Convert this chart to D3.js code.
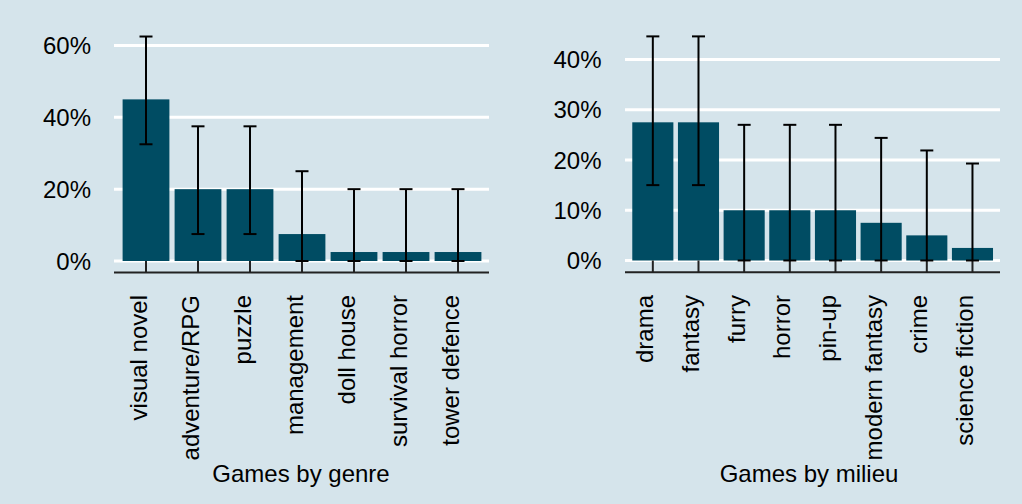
<!DOCTYPE html>
<html>
<head>
<meta charset="utf-8">
<script src="https://cdn.jsdelivr.net/npm/d3@7"></script>
<style>
  html, body { margin: 0; padding: 0; background: #d5e4eb; }
  svg { display: block; }
  text { font-family: "Liberation Sans", Arial, sans-serif; fill: #000; }
</style>
</head>
<body>
<svg id="chart" width="1022" height="504"></svg>
<script>
// Games by genre (share of games, %) with confidence bounds
const genreCats  = ['visual novel', 'adventure/RPG', 'puzzle', 'management', 'doll house', 'survival horror', 'tower defence'];
const genreValue = [45, 20, 20, 7.5, 2.5, 2.5, 2.5];
const genreLow   = [32.5, 7.5, 7.5, 0, 0, 0, 0];
const genreHigh  = [62.5, 37.5, 37.5, 25, 20, 20, 20];
const genreTicks = [0, 20, 40, 60];

// Games by milieu
const milieuCats  = ['drama', 'fantasy', 'furry', 'horror', 'pin-up', 'modern fantasy', 'crime', 'science fiction'];
const milieuValue = [27.5, 27.5, 10, 10, 10, 7.5, 5, 2.5];
const milieuLow   = [15, 15, 0, 0, 0, 0, 0, 0];
const milieuHigh  = [44.6, 44.6, 27, 27, 27, 24.4, 21.9, 19.3];
const milieuTicks = [0, 10, 20, 30, 40];

const svg = d3.select('#chart');
const barColor = '#004c63';

// Draw one bar panel
function panel(opts) {
  let g = svg.append('g');
  let x = d3.scaleBand()
    .domain(opts.cats)
    .range(opts.xRange)
    .paddingInner(0.1)
    .paddingOuter(0.05);
  let y = d3.scaleLinear()
    .domain(opts.yDomain)
    .range(opts.yRange);

  // Gridlines
  g.selectAll('line.grid')
    .data(opts.ticks)
    .join('line')
    .attr('x1', opts.gridX[0])
    .attr('x2', opts.gridX[1])
    .attr('y1', d => y(d))
    .attr('y2', d => y(d))
    .attr('stroke', '#fff')
    .attr('stroke-width', 3);

  // Y labels
  g.selectAll('text.ylab')
    .data(opts.ticks)
    .join('text')
    .attr('x', opts.labelX)
    .attr('y', d => y(d))
    .attr('dy', '0.36em')
    .attr('text-anchor', 'end')
    .style('font-size', '24px')
    .text(d => d + '%');

  let rows = opts.cats.map((c, i) => ({c: c, v: opts.values[i], lo: opts.low[i], hi: opts.high[i]}));

  // Bars
  g.selectAll('rect.bar')
    .data(rows)
    .join('rect')
    .attr('x', d => x(d.c))
    .attr('width', x.bandwidth())
    .attr('y', d => y(d.v))
    .attr('height', d => y(0) - y(d.v))
    .attr('fill', barColor);

  // X axis line and ticks
  let axisY = opts.axisY;
  g.append('line')
    .attr('x1', opts.gridX[0])
    .attr('x2', opts.gridX[1])
    .attr('y1', axisY)
    .attr('y2', axisY)
    .attr('stroke', '#222')
    .attr('stroke-width', 2);
  g.selectAll('line.tick')
    .data(rows)
    .join('line')
    .attr('x1', d => x(d.c) + x.bandwidth() / 2)
    .attr('x2', d => x(d.c) + x.bandwidth() / 2)
    .attr('y1', y(0))
    .attr('y2', axisY)
    .attr('stroke', '#222')
    .attr('stroke-width', 2);

  // Error bars
  let cap = 6.5;
  let eb = g.selectAll('g.err')
    .data(rows)
    .join('g')
    .attr('transform', d => 'translate(' + (x(d.c) + x.bandwidth() / 2) + ',0)');
  eb.append('line')
    .attr('y1', d => y(d.lo))
    .attr('y2', d => y(d.hi))
    .attr('stroke', '#000')
    .attr('stroke-width', 2);
  for (let key of ['lo', 'hi']) {
    eb.append('line')
      .attr('x1', -cap)
      .attr('x2', cap)
      .attr('y1', d => y(d[key]))
      .attr('y2', d => y(d[key]))
      .attr('stroke', '#000')
      .attr('stroke-width', 2);
  }

  // Category labels, rotated
  g.selectAll('text.cat')
    .data(rows)
    .join('text')
    .attr('transform', d => 'translate(' + (x(d.c) + x.bandwidth() / 2 + 0.5) + ',295) rotate(-90)')
    .attr('text-anchor', 'end')
    .style('font-size', '24px')
    .text(d => d.c);

  // Axis title
  g.append('text')
    .attr('x', opts.titleX)
    .attr('y', 482)
    .attr('text-anchor', 'middle')
    .style('font-size', '24px')
    .text(opts.title);
}

panel({
  cats: genreCats, values: genreValue, low: genreLow, high: genreHigh, ticks: genreTicks,
  xRange: [120, 484], yDomain: [0, 60], yRange: [261, 45.5],
  gridX: [114, 489], labelX: 91, axisY: 272.5,
  titleX: 301, title: 'Games by genre'
});

panel({
  cats: milieuCats, values: milieuValue, low: milieuLow, high: milieuHigh, ticks: milieuTicks,
  xRange: [630, 995.3], yDomain: [0, 40], yRange: [260.5, 59.5],
  gridX: [625, 1000], labelX: 601.5, axisY: 272.3,
  titleX: 809, title: 'Games by milieu'
});
</script>
</body>
</html>
